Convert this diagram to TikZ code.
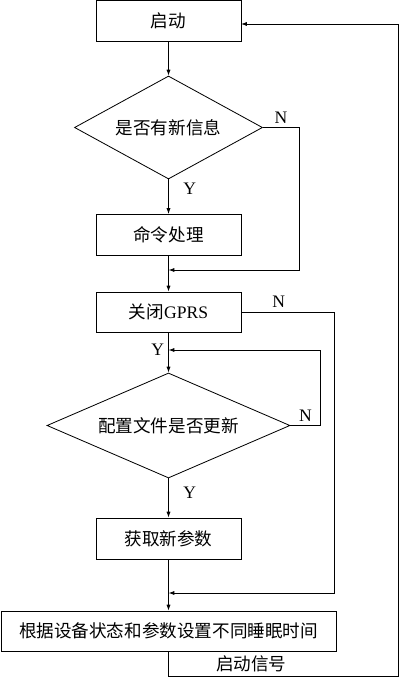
\documentclass[tikz,border=0pt]{standalone}
\usepackage{fontspec}
\setmainfont{Liberation Serif}
\newfontfamily\cjk{Noto Sans CJK SC}
\usepackage{tikz}
\usetikzlibrary{arrows.meta,shapes.geometric,positioning}

\begin{document}
\begin{tikzpicture}[x=0.03cm, y=-0.03cm, ->, >={Latex[length=5pt,width=3.5pt]}, line width=0.7pt,
  every node/.style={font=\fontsize{15}{18}\selectfont},
  box/.style={draw, rectangle, inner sep=0pt, minimum width=4.35cm, minimum height=1.23cm},
  decision/.style={draw, diamond, inner sep=0pt, aspect=2}]
\path[use as bounding box] (0,0) rectangle (400,678);
\node[box] (B0) at (168.5,20.5) {{\cjk 启动}};
\node[decision, minimum width=5.64cm, minimum height=3.09cm] (D1) at (168.5,127.5) {{\cjk 是否有新信息}};
\node[box] (B1) at (168.5,235) {{\cjk 命令处理}};
\node[box, minimum height=1.2cm] (B2) at (168.5,312) {{\cjk 关闭}GPRS};
\node[decision, minimum width=7.29cm, minimum height=3.15cm] (D2) at (168.5,425.5) {{\cjk 配置文件是否更新}};
\node[box] (B3) at (168.5,538.5) {{\cjk 获取新参数}};
\node[box, minimum width=10.05cm, minimum height=1.2cm] (B4) at (168.5,631) {{\cjk 根据设备状态和参数设置不同睡眠时间}};
\coordinate (M1) at (168.5,270);
\coordinate (M2) at (168.5,350);
\coordinate (M3) at (168.5,593);
\coordinate (E0) at (241,24);
\draw (B0) -- (D1);
\draw (D1) -- node[right=9pt, pos=0.26] (Y1) {Y} (B1);
\draw (D1.east) -- node[above] (N1) {N} ++(36,0) |- (M1);
\draw (B1) -- (B2);
\draw (B2.east) -- node[above, pos=0.4] (N2) {N} ++(93,0) |- (M3);
\draw (B2) -- node[left, pos=0.44] (Y2) {Y} (D2);
\draw (D2.east) -- node[above] (N3) {N} ++(30,0) |- (M2);
\draw (D2) -- node[right=9pt, pos=0.37] (Y3) {Y} (B3);
\draw (B3) -- (B4);
\draw (B4.south) -- (168.5,676.5) -- node[above, pos=0.36] (S1) {{\cjk 启动信号}} (398.5,676.5) |- (E0);
\end{tikzpicture}
\end{document}
